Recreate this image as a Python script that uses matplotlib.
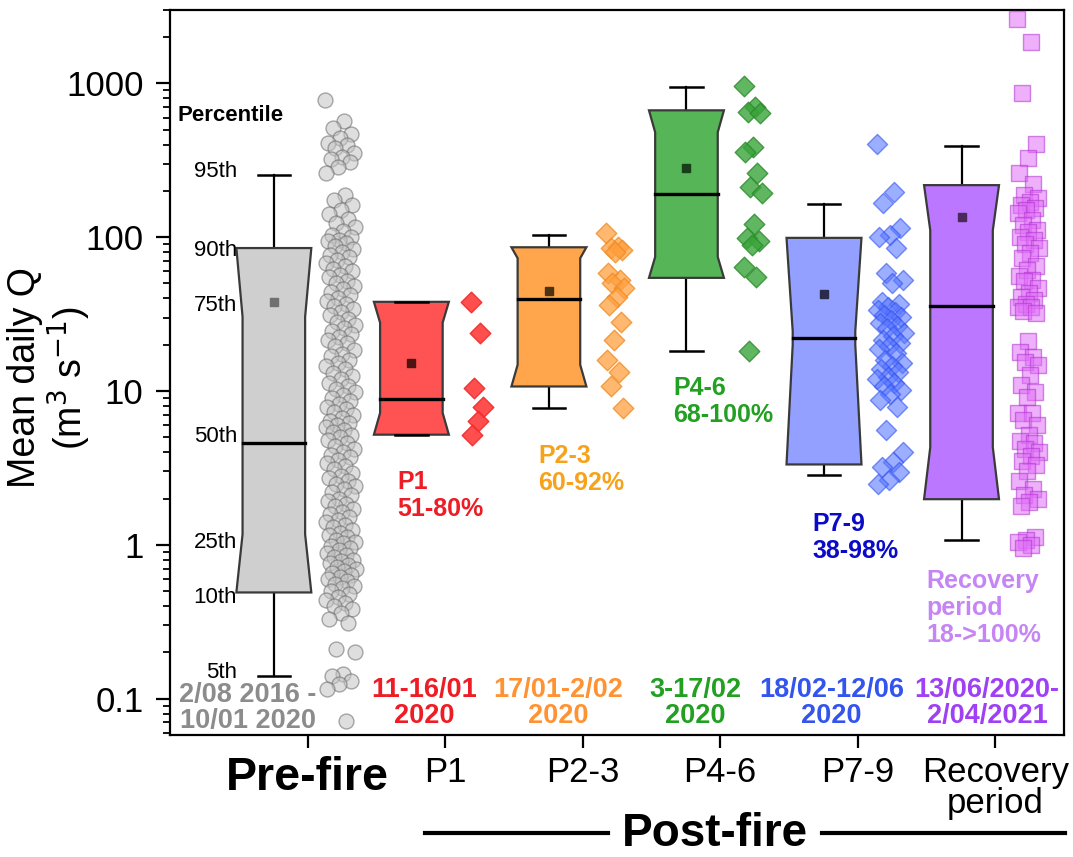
import numpy as np
import matplotlib
matplotlib.use("Agg")
import matplotlib.pyplot as plt
from matplotlib.patches import Polygon
from matplotlib.lines import Line2D
from matplotlib import transforms
from matplotlib.ticker import FixedLocator, FixedFormatter, LogLocator, NullFormatter

plt.rcParams['font.family'] = ['Liberation Sans', 'DejaVu Sans']

# ---- data -------------------------------------------------------------
groups = ["Pre-fire", "P1", "P2-3", "P4-6", "P7-9", "Recovery\nperiod"]

# box statistics (m3 s-1)
p5 = [0.14, 5.2, 7.8, 18.3, 2.83, 1.07]
p10 = [0.49, 5.2, 10.7, 54.4, 3.33, 1.98]
p25 = [1.17, 7.2, 14.8, 74.4, 20.0, 4.3]
p50 = [4.6, 8.9, 39.8, 190, 22.2, 35.8]
p75 = [30.4, 27.8, 73, 481, 24.5, 111]
p90 = [85, 38, 86, 668, 99, 218]
p95 = [253, 38, 103, 942, 164, 390]
means = [38, 15.3, 45, 281, 42.8, 135]

# daily values shown beside each box
q_prefire = [776, 567, 511, 470, 440, 408, 395, 379, 352, 331, 320, 307, 285, 261,
             188, 175, 163, 150, 142, 131, 124, 117, 110, 104, 101, 96,
             95, 91, 88, 84, 80, 77, 74, 71, 68, 65, 62, 60, 57, 55, 52, 50, 48, 46,
             44, 42, 40, 38.5, 37, 35.5, 34, 32.5, 31, 29.5, 28, 27, 25.5, 24.5, 23.5,
             22.5, 21.5, 20.5, 19.5, 18.5, 17.5, 16.8, 16, 15.2, 14.5, 13.8, 13.1, 12.5,
             11.9, 11.3, 10.8, 10.3,
             9.8, 9.4, 9.0, 8.6, 8.2, 7.9, 7.6, 7.3, 7.0, 6.7, 6.4, 6.2, 6.0, 5.8, 5.6,
             5.4, 5.2, 5.0, 4.8, 4.6, 4.4, 4.2, 4.0, 3.85, 3.7, 3.55, 3.4, 3.25, 3.1,
             2.95, 2.8, 2.7, 2.6, 2.5, 2.4, 2.3, 2.2, 2.1, 2.0, 1.92, 1.85, 1.78, 1.71,
             1.64, 1.58, 1.52, 1.46, 1.4, 1.35, 1.3, 1.25, 1.2, 1.16, 1.12, 1.08, 1.05,
             1.02,
             0.98, 0.95, 0.92, 0.89, 0.86, 0.83, 0.8, 0.78, 0.76, 0.74, 0.72, 0.7, 0.68,
             0.66, 0.64, 0.62, 0.6, 0.58, 0.56, 0.54, 0.52, 0.5, 0.48, 0.46, 0.44, 0.42,
             0.4, 0.38, 0.36, 0.33, 0.31,
             0.21, 0.2, 0.145, 0.14, 0.13, 0.125, 0.115, 0.072]
q_p1 = [38, 24, 10.5, 7.9, 6.4, 5.2]
q_p23 = [106, 86, 85, 82, 80, 58.6, 52.7, 50.5, 46.9, 40.9, 36.3, 28.2, 21.5, 16,
         13.2, 10.7, 7.8]
q_p46 = [957, 699, 649, 640, 385, 357, 261, 212, 194, 122, 99, 95, 89, 64, 55, 18.3]
q_p79 = [402, 196, 167, 115, 103, 100, 85, 58.6, 52.7, 50.5, 38, 37, 35, 33.7, 32.5,
         31, 30.4, 29, 27.8, 26.5, 25.8, 24, 22.8, 21.5, 20.5, 19.5, 18.8, 17.6, 16,
         15.3, 14.5, 13.8, 13.2, 12.4, 12, 11.3, 10.7, 10.2, 9.5, 8.8, 7.9, 5.6, 4.0,
         3.43, 3.2, 2.98, 2.65, 2.5]
q_rec = [2640, 1870, 861, 402, 326, 261, 221, 188, 181, 170, 162, 155, 150, 144, 130,
         120, 112, 108, 100, 96, 90, 85, 79, 73, 65, 61, 56, 52.7, 52, 47, 43.5, 41,
         39, 37, 35, 35, 33, 32, 21, 18, 16.7, 15.5, 14.8, 12.8, 11, 9.8, 9.1, 7.2,
         7.2, 6.5, 5.97, 5.2, 4.7, 4.6, 4.2, 4.0, 3.76, 3.5, 3.3, 3.0, 2.6, 2.3, 2.1,
         2.0, 1.9, 1.8, 1.12, 1.07, 1.05, 1.0, 0.95]
points = [q_prefire, q_p1, q_p23, q_p46, q_p79, q_rec]

change_labels = ["", "P1\n51-80%", "P2-3\n60-92%", "P4-6\n68-100%", "P7-9\n38-98%",
                 "Recovery\nperiod\n18->100%"]
date_labels = ["2/08 2016 -\n10/01 2020", "11-16/01\n2020", "17/01-2/02\n2020",
               "3-17/02\n2020", "18/02-12/06\n2020", "13/06/2020-\n2/04/2021"]
percentile_names = ["95th", "90th", "75th", "50th", "25th", "10th", "5th"]

# ---- styles -----------------------------------------------------------
box_fill = ['#cfcfcf', '#ff5252', '#ffa64d', '#56b556', '#94a0ff', '#bb77ff']
mean_col = ['#707070', '#4d1414', '#4d3314', '#1a3d1a', '#2a2a4a', '#4a2a5a']
pt_face = ['#c4c4c4', '#ff3b3b', '#ffa040', '#3aa53a', '#5a78ff', '#e070f8']
pt_edge = ['#686868', '#ee2a2a', '#f08a20', '#2a8a2a', '#3050f0', '#b030d0']
pt_marker = ['o', 'D', 'D', 'D', 'D', 's']
pt_size = [115, 110, 110, 110, 105, 120]
pt_alpha = [0.55, 0.9, 0.75, 0.8, 0.6, 0.55]
pt_spread = [0.11, 0.05, 0.07, 0.07, 0.1, 0.08]
label_col = ['#8c8c8c', '#ee1c25', '#f7a21b', '#22a022', '#0a0ac8', '#c585f5']
date_col = ['#8c8c8c', '#ee1c25', '#ff9333', '#22a022', '#3355ee', '#a040f5']

fig = plt.figure(figsize=(10.73, 8.57), dpi=100)
ax = fig.add_axes([170 / 1073, 1 - 735 / 857, (1064 - 170) / 1073, (735 - 10) / 857])
ax.set_yscale('log')
ax.set_xlim(0, 6.5)
ax.set_ylim(0.058, 3000)

box_off, box_w, notch, cap_w, pt_off = -0.245, 0.545, 0.045, 0.235, 0.24
golden = 0.6180339887

for i in range(len(groups)):
    xc = i + 1 + box_off
    hw = box_w / 2
    iw = hw - notch
    verts = [(xc - hw, p90[i]), (xc - iw, p75[i]), (xc - iw, p25[i]), (xc - hw, p10[i]),
             (xc + hw, p10[i]), (xc + iw, p25[i]), (xc + iw, p75[i]), (xc + hw, p90[i])]
    ax.add_patch(Polygon(verts, closed=True, facecolor=box_fill[i], edgecolor='#3a3a3a',
                         lw=1.6, zorder=3))
    ax.plot([xc, xc], [p90[i], p95[i]], color='black', lw=1.6, zorder=2)
    ax.plot([xc, xc], [p5[i], p10[i]], color='black', lw=1.6, zorder=2)
    ax.plot([xc - cap_w / 2, xc + cap_w / 2], [p95[i], p95[i]], color='black', lw=1.8, zorder=4)
    ax.plot([xc - cap_w / 2, xc + cap_w / 2], [p5[i], p5[i]], color='black', lw=1.8, zorder=4)
    ax.plot([xc - iw, xc + iw], [p50[i], p50[i]], color='black', lw=2.4, zorder=4)
    ax.plot(xc, means[i], marker='s', ms=5.5, color=mean_col[i], zorder=5)

    vals = np.asarray(points[i], dtype=float)
    k = np.arange(len(vals))
    xs = i + 1 + pt_off + ((k * golden) % 1.0 - 0.5) * 2 * pt_spread[i]
    ax.scatter(xs, vals, marker=pt_marker[i], s=pt_size[i], facecolors=pt_face[i],
               edgecolors=pt_edge[i], linewidths=1.0, alpha=pt_alpha[i], zorder=3)

# axes styling
for sp in ax.spines.values():
    sp.set_linewidth(1.6)
ax.yaxis.set_major_locator(FixedLocator([0.1, 1, 10, 100, 1000]))
ax.yaxis.set_major_formatter(FixedFormatter(['0.1', '1', '10', '100', '1000']))
ax.yaxis.set_minor_locator(LogLocator(base=10, subs=np.arange(2, 10)))
ax.yaxis.set_minor_formatter(NullFormatter())
ax.tick_params(axis='y', which='major', direction='out', length=10, width=1.6,
               labelsize=25, pad=9)
ax.tick_params(axis='y', which='minor', direction='out', length=5, width=1.3)
ax.set_xticks(np.arange(1, 7))
ax.set_xticklabels(groups)
ax.tick_params(axis='x', direction='out', length=9, width=1.6, labelsize=25, pad=6)
for j, lab in enumerate(ax.get_xticklabels()):
    lab.set_linespacing(0.92)
    if j == 0:
        lab.set_fontweight('bold')
        lab.set_fontsize(33.5)

# percentile guide next to the pre-fire box
ax.text(0.058, 620, "Percentile", fontsize=16, fontweight='bold', ha='left', va='center')
pct_vals = [p95[0], p90[0], p75[0], p50[0], p25[0], p10[0], p5[0]]
pct_shift = [4, -2, 11, 6, -8, -5, 4]
for name, v, dy in zip(percentile_names, pct_vals, pct_shift):
    tr = transforms.offset_copy(ax.transData, fig=fig, x=0, y=dy * 0.72, units='points')
    ax.text(0.487, v, name, fontsize=16, ha='right', va='center', transform=tr)

# change labels
label_pos = [None, (1.65, 2.1), (2.68, 3.09), (3.66, 8.5), (4.67, 1.12), (5.5, 0.39)]
for i in range(1, len(groups)):
    x, y = label_pos[i]
    ax.text(x, y, change_labels[i], color=label_col[i], fontsize=18, fontweight='bold',
            ha='left', va='center', linespacing=1.15)

# date ranges
date_x = [0.567, 1.846, 2.82, 3.82, 4.81, 5.94]
date_y = [0.087, 0.094, 0.094, 0.094, 0.094, 0.094]
for i in range(len(groups)):
    ax.text(date_x[i], date_y[i], date_labels[i], color=date_col[i], fontsize=19.5,
            fontweight='bold', ha='center', va='center', linespacing=1.0)

# y label
fig.text(50 / 1073, 1 - 378 / 857, "Mean daily Q\n(m$^3$ s$^{-1}$)", rotation=90,
         fontsize=27, ha='center', va='center', multialignment='center', linespacing=1.1)

# post-fire bracket
yb = 1 - 833 / 857
fig.add_artist(Line2D([425 / 1073, 608 / 1073], [yb, yb], transform=fig.transFigure,
                      color='black', lw=3))
fig.add_artist(Line2D([822 / 1073, 1065 / 1073], [yb, yb], transform=fig.transFigure,
                      color='black', lw=3))
fig.text(715 / 1073, 1 - 846 / 857, "Post-fire", fontsize=33, fontweight='bold',
         ha='center', va='baseline')

fig.savefig("out.png", dpi=100)
